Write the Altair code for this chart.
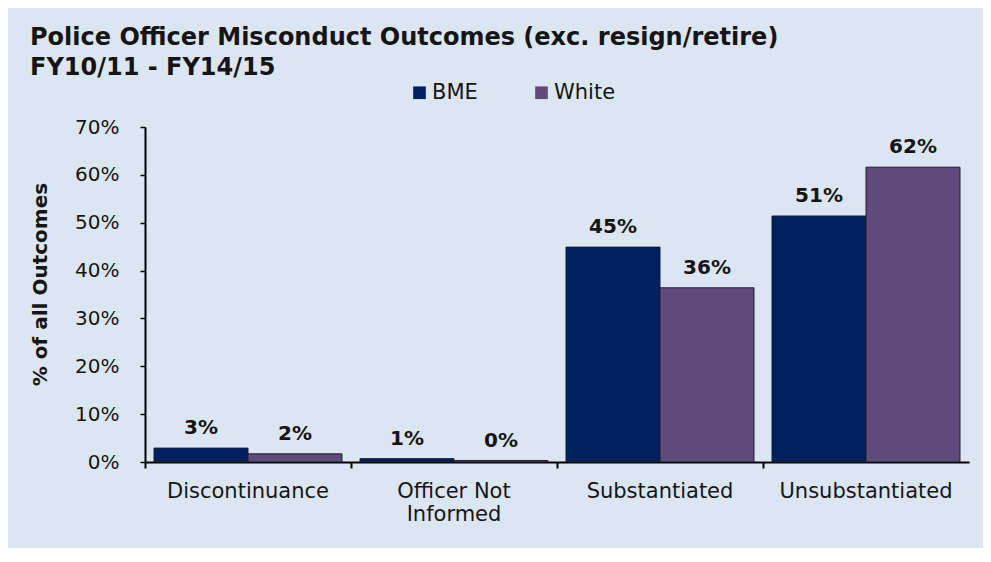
import altair as alt
import pandas as pd

categories = ["Discontinuance", "Officer Not Informed", "Substantiated", "Unsubstantiated"]
series = ["BME", "White"]
bme_values = [2.9, 0.7, 44.9, 51.4]
white_values = [1.7, 0.3, 36.4, 61.6]
y_ticks = [0, 10, 20, 30, 40, 50, 60, 70]
title_lines = ["Police Officer Misconduct Outcomes (exc. resign/retire)", "FY10/11 - FY14/15"]
y_title = "% of all Outcomes"

rows = []
for c, b, w in zip(categories, bme_values, white_values):
    rows.append({"cat": c, "group": "BME", "value": b / 100})
    rows.append({"cat": c, "group": "White", "value": w / 100})
df = pd.DataFrame(rows)

FONT = "DejaVu Sans"
TXT = "#151515"
xscale = alt.Scale(domain=categories, paddingInner=0, paddingOuter=0)
xoff = alt.Scale(domain=series, paddingInner=0, paddingOuter=0.096)
cscale = alt.Scale(domain=series, range=["#002060", "#604a7b"])
yscale = alt.Scale(domain=[0, 0.7], nice=False)

base = alt.Chart(df)

x_label_axis = alt.Axis(
    title=None, labelAngle=0, ticks=False, domain=True, domainColor="black",
    domainWidth=2, labelFontSize=21, labelColor=TXT, labelPadding=18,
    labelFont=FONT, labelLineHeight=23,
    labelExpr="datum.label == 'Officer Not Informed' ? ['Officer Not', 'Informed'] : datum.label",
)

y_axis = alt.Axis(
    values=[t / 100 for t in y_ticks], format=".0%", title=y_title,
    titleFont=FONT, titleFontSize=20, titleFontWeight="bold", titleColor=TXT,
    titleX=-105, titleY=157, titleAngle=-90, titleAlign="center", titleBaseline="middle",
    labelFont=FONT, labelFontSize=20, labelColor=TXT, labelPadding=21,
    tickSize=5, tickColor="black", tickWidth=1.5,
    domainColor="black", domainWidth=2, grid=False,
)

bars = base.mark_bar(stroke="#1b1b2b", strokeWidth=1).encode(
    x=alt.X("cat:N", scale=xscale, sort=categories, axis=x_label_axis),
    xOffset=alt.XOffset("group:N", scale=xoff, sort=series),
    y=alt.Y("value:Q", scale=yscale, axis=y_axis),
    color=alt.Color(
        "group:N", scale=cscale, sort=series,
        legend=alt.Legend(
            title=None, orient="none", legendX=264, legendY=-45, direction="horizontal",
            symbolType="square", symbolSize=160, symbolStrokeWidth=0,
            labelFont=FONT, labelFontSize=21, labelColor=TXT, labelOffset=2,
            columnPadding=53,
        ),
    ),
)

labels = base.mark_text(
    fontWeight="bold", fontSize=20, baseline="alphabetic", dy=-14, font=FONT, color=TXT
).encode(
    x=alt.X("cat:N", scale=xscale, sort=categories, axis=None),
    xOffset=alt.XOffset("group:N", scale=xoff, sort=series),
    y=alt.Y("value:Q", scale=yscale),
    text=alt.Text("value:Q", format=".0%"),
)

tick_layer = base.mark_bar(opacity=0).encode(
    x=alt.X("cat:N", scale=xscale, sort=categories,
            axis=alt.Axis(orient="bottom", bandPosition=0, labels=False, domain=False,
                          tickSize=6, tickColor="black", tickWidth=2, title=None)),
    y=alt.value(0),
)

chart = alt.layer(bars, labels, tick_layer).resolve_axis(x="independent").properties(
    width=824, height=335,
    autosize=alt.AutoSizeParams(type="none"),
    padding={"left": 137, "top": 119, "right": 14, "bottom": 86},
    background="#dce6f2",
    title=alt.TitleParams(
        text=title_lines, anchor="start", frame="group", dx=-115,
        font=FONT, fontSize=24, fontWeight="bold", color=TXT, lineHeight=30,
        offset=2,
    ),
).configure_view(stroke=None)

chart.save("out.html", embed_options={"renderer": "svg", "actions": False})
